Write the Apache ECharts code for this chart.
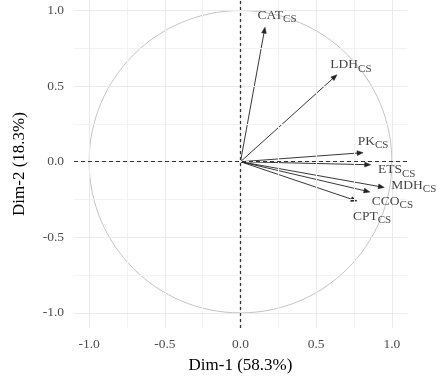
<!DOCTYPE html>
<html>
<head>
<meta charset="utf-8">
<script src="https://cdn.jsdelivr.net/npm/echarts@6/dist/echarts.min.js"></script>
<style>html,body{margin:0;padding:0;background:#fff}#c{width:436px;height:381px}</style>
</head>
<body>
<div id="c"></div>
<script>
// Data
const variables = ['CAT', 'LDH', 'PK', 'ETS', 'MDH', 'CCO', 'CPT'];
const dim1 = [0.162, 0.637, 0.81, 0.86, 0.95, 0.855, 0.77];
const dim2 = [0.89, 0.575, 0.06, -0.02, -0.17, -0.20, -0.26];
const tickValues = [-1.0, -0.5, 0.0, 0.5, 1.0];
const minorValues = [-0.75, -0.25, 0.25, 0.75];
const subscript = 'CS';

// Styling (label pixel offsets)
const labelOffsets = {
  CAT: [12, -12], LDH: [14, -10], PK: [10, -11.5], ETS: [26, 5],
  MDH: [29.5, -2], CCO: [22.5, 9], CPT: [15, 15.5]
};

const FONT = 'Liberation Serif';
const chart = echarts.init(document.getElementById('c'), null, {renderer: 'canvas'});

function vLines(vals, color) {
  return vals.map(v => ({xAxis: v, lineStyle: {color: color, width: 1, type: 'solid'}}));
}
function hLines(vals, color) {
  return vals.map(v => ({yAxis: v, lineStyle: {color: color, width: 1, type: 'solid'}}));
}

const series = [];
// grid lines
series.push({
  type: 'line', data: [], silent: true, z: 1,
  markLine: {
    silent: true, symbol: 'none', label: {show: false}, animation: false,
    data: [].concat(vLines(minorValues, '#f2f2f2'), hLines(minorValues, '#f2f2f2'),
                    vLines(tickValues, '#ebebeb'), hLines(tickValues, '#ebebeb'))
  }
});
// circle
series.push({
  type: 'custom', silent: true, z: 2,
  data: [[0, 0]],
  renderItem: function (params, api) {
    const c = api.coord([0, 0]);
    const r = api.size([1, 1]);
    return {
      type: 'ellipse',
      shape: {cx: c[0], cy: c[1], rx: r[0], ry: r[1]},
      style: {fill: 'none', stroke: '#c4c4c4', lineWidth: 1}
    };
  }
});
// zero dashed lines
series.push({
  type: 'line', data: [], silent: true, z: 3,
  markLine: {
    silent: true, symbol: 'none', label: {show: false}, animation: false,
    data: [
      {xAxis: 0, lineStyle: {color: '#333', width: 1.3, type: [3, 3]}},
      {yAxis: 0, lineStyle: {color: '#333', width: 1, type: [4, 3]}}
    ]
  }
});
// arrows
series.push({
  type: 'custom', z: 4, silent: true,
  data: variables.map((v, i) => [dim1[i], dim2[i]]),
  renderItem: function (params, api) {
    const o = api.coord([0, 0]);
    const t = api.coord([api.value(0), api.value(1)]);
    const dx = t[0] - o[0], dy = t[1] - o[1];
    const len = Math.sqrt(dx * dx + dy * dy);
    const ux = dx / len, uy = dy / len;
    const L = 6, W = 2.4;
    const bx = t[0] - ux * L, by = t[1] - uy * L;
    return {
      type: 'group',
      children: [
        {type: 'line', shape: {x1: o[0], y1: o[1], x2: t[0] - ux * 2, y2: t[1] - uy * 2},
          style: {stroke: '#222', lineWidth: 0.9}},
        {type: 'polygon', shape: {points: [[t[0], t[1]], [bx - uy * W, by + ux * W], [bx + uy * W, by - ux * W]]},
          style: {fill: '#222', stroke: '#222', lineWidth: 0.5}}
      ]
    };
  }
});
// labels
series.push({
  type: 'scatter', z: 5, symbolSize: 0,
  data: variables.map((v, i) => ({
    value: [dim1[i], dim2[i]],
    label: {
      show: true, position: 'inside', offset: labelOffsets[v],
      formatter: '{m|' + v + '}{s|' + subscript + '}',
      rich: {
        m: {fontFamily: FONT, fontSize: 13.5, color: '#111'},
        s: {fontFamily: FONT, fontSize: 11, color: '#111', padding: [8, 0, 0, 0]}
      }
    }
  }))
});

chart.setOption({
  animation: false,
  grid: {left: 74, right: 29, top: 0, bottom: 53, containLabel: false, outerBoundsMode: 'none'},
  xAxis: {
    type: 'value', min: -1.1, max: 1.1,
    name: 'Dim-1 (58.3%)', nameLocation: 'middle', nameGap: 29,
    nameTextStyle: {fontFamily: FONT, fontSize: 17, color: '#000'},
    axisLine: {show: false}, axisTick: {show: false}, splitLine: {show: false},
    axisLabel: {customValues: tickValues, formatter: v => v.toFixed(1), margin: 9,
      fontFamily: FONT, fontSize: 13.5, color: '#4d4d4d'}
  },
  yAxis: {
    type: 'value', min: -1.1, max: 1.07,
    name: 'Dim-2 (18.3%)', nameLocation: 'middle', nameGap: 46,
    nameTextStyle: {fontFamily: FONT, fontSize: 17, color: '#000'},
    axisLine: {show: false}, axisTick: {show: false}, splitLine: {show: false},
    axisLabel: {customValues: tickValues, formatter: v => v.toFixed(1), margin: 10,
      fontFamily: FONT, fontSize: 13.5, color: '#4d4d4d'}
  },
  series: series
});
</script>
</body>
</html>
